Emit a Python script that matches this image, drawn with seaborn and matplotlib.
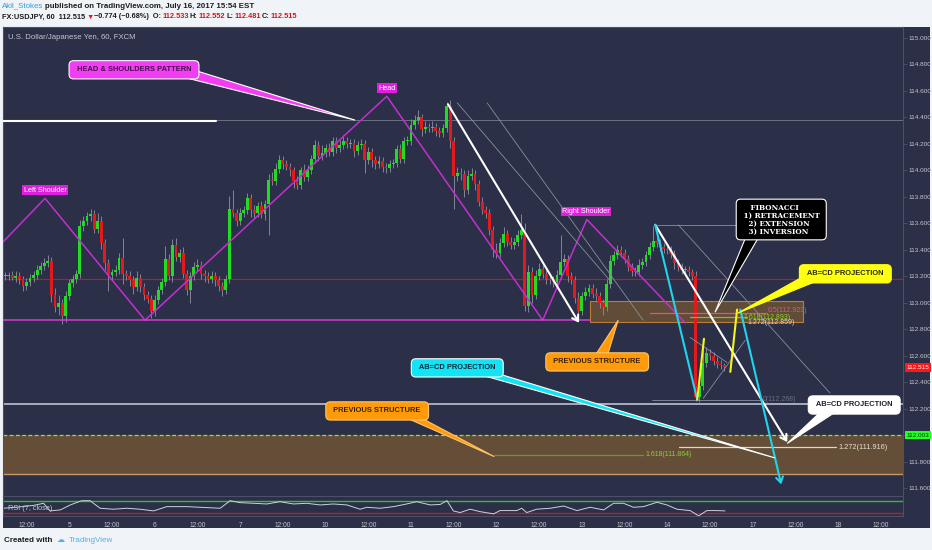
import numpy as np
import pandas as pd
import matplotlib
matplotlib.use("Agg")
import matplotlib.pyplot as plt
from matplotlib.patches import Rectangle, Polygon
import seaborn as sns

# ---------------- data: USDJPY 60 min bars, bar 0 = Jul 4 06:00 EST ----------------
first_open = 113.20
closes = [
    113.20, 113.21, 113.19, 113.20, 113.18, 113.13, 113.16, 113.19, 113.21, 113.25,
    113.28, 113.30, 113.32, 113.06, 112.97, 113.00, 112.90, 113.05, 113.15, 113.18,
    113.22, 113.58, 113.62, 113.66, 113.67, 113.56, 113.62, 113.45, 113.30, 113.21,
    113.23, 113.25, 113.34, 113.22, 113.20, 113.17, 113.12, 113.19, 113.12, 113.06,
    113.03, 112.94, 113.02, 113.10, 113.16, 113.33, 113.20, 113.44, 113.35, 113.38,
    113.22, 113.10, 113.20, 113.27, 113.29, 113.22, 113.20, 113.18, 113.20, 113.17,
    113.13, 113.10, 113.18, 113.71, 113.68, 113.62, 113.68, 113.70, 113.79, 113.70,
    113.68, 113.73, 113.67, 113.75, 113.93, 113.92, 114.01, 114.08, 114.05, 114.03,
    114.00, 113.92, 113.89, 114.00, 113.95, 114.00, 114.09, 114.19, 114.11, 114.13,
    114.17, 114.14, 114.22, 114.17, 114.19, 114.22, 114.20, 114.21, 114.15, 114.19,
    114.20, 114.08, 114.14, 114.08, 114.05, 114.07, 114.03, 114.02, 114.05, 114.06,
    114.16, 114.09, 114.22, 114.22, 114.34, 114.38, 114.40, 114.31, 114.33, 114.32,
    114.33, 114.30, 114.28, 114.32, 114.49, 114.22, 113.96, 113.98, 113.97, 113.85,
    113.96, 113.97, 113.90, 113.76, 113.70, 113.68, 113.55, 113.40, 113.38, 113.45,
    113.52, 113.46, 113.44, 113.46, 113.51, 113.55, 112.98, 113.23, 113.06, 113.20,
    113.26, 113.22, 113.18, 113.17, 113.16, 113.21, 113.31, 113.33, 113.20, 113.17,
    113.04, 112.94, 113.05, 113.08, 113.11, 113.07, 113.05, 113.00, 112.97, 113.14,
    113.32, 113.36, 113.40, 113.38, 113.33, 113.27, 113.24, 113.23, 113.29, 113.31,
    113.36, 113.42, 113.47, 113.45, 113.42, 113.41, 113.40, 113.37, 113.30, 113.27,
    113.25, 113.25, 113.23, 113.20, 112.29, 112.37, 112.55, 112.62, 112.60, 112.56,
    112.54, 112.53, 112.515,
]
# wick lengths in pips (0.01)
wick_up = [
    3, 2, 3, 4, 3, 2, 3, 3, 3, 4,
    3, 4, 4, 3, 5, 6, 3, 4, 3, 3,
    3, 5, 4, 3, 4, 3, 6, 4, 3, 3,
    3, 4, 4, 15, 3, 4, 3, 5, 3, 3,
    3, 3, 4, 3, 3, 10, 4, 4, 5, 3,
    4, 3, 3, 4, 4, 3, 3, 3, 4, 3,
    3, 3, 3, 10, 14, 3, 4, 3, 4, 3,
    4, 3, 4, 3, 4, 6, 5, 4, 3, 3,
    3, 3, 4, 3, 5, 4, 3, 4, 3, 6,
    3, 4, 3, 3, 4, 5, 3, 3, 3, 3,
    4, 3, 4, 3, 3, 4, 3, 3, 3, 3,
    3, 4, 3, 4, 5, 4, 6, 3, 4, 3,
    4, 3, 3, 3, 3, 4, 3, 5, 4, 3,
    4, 5, 3, 3, 4, 3, 3, 3, 5, 4,
    5, 3, 4, 3, 4, 12, 5, 6, 4, 5,
    4, 3, 3, 4, 3, 4, 20, 4, 3, 3,
    3, 4, 3, 4, 3, 3, 4, 3, 3, 4,
    4, 3, 4, 3, 3, 3, 3, 3, 4, 3,
    3, 4, 11, 3, 3, 3, 3, 3, 3, 3,
    3, 3, 3, 3, 4, 4, 15, 5, 3, 3,
    3, 3, 2,
]
wick_dn = [
    3, 3, 2, 3, 4, 4, 3, 3, 3, 3,
    3, 3, 3, 5, 4, 6, 6, 4, 3, 3,
    3, 3, 4, 3, 4, 3, 3, 4, 5, 12,
    4, 3, 3, 8, 3, 4, 5, 3, 4, 4,
    3, 5, 4, 3, 3, 3, 3, 4, 3, 4,
    3, 4, 10, 3, 3, 4, 4, 3, 3, 4,
    4, 5, 3, 3, 3, 4, 3, 3, 3, 5,
    4, 3, 3, 4, 24, 3, 3, 3, 4, 3,
    4, 5, 3, 3, 3, 3, 3, 3, 4, 3,
    3, 3, 3, 4, 3, 3, 3, 3, 5, 3,
    3, 10, 3, 5, 4, 3, 4, 4, 3, 3,
    3, 3, 3, 3, 3, 3, 3, 5, 3, 3,
    3, 4, 3, 3, 3, 5, 25, 4, 4, 5,
    3, 3, 5, 3, 3, 4, 4, 5, 4, 3,
    3, 3, 3, 3, 3, 3, 4, 5, 6, 3,
    3, 3, 4, 3, 4, 3, 3, 3, 4, 3,
    4, 4, 3, 3, 3, 3, 3, 4, 6, 3,
    3, 3, 3, 3, 3, 3, 4, 3, 3, 3,
    3, 3, 3, 3, 3, 3, 3, 3, 4, 3,
    3, 3, 3, 3, 3, 4, 3, 3, 3, 3,
    3, 3, 3,
]

# RSI(7) (bar, value)
rsi_bar = [-0.5, 4.0, 8.0, 10.8, 12.6, 15.5, 18.3, 21.5, 23.9, 24.8, 26.7, 30.4, 34.2,
           37.9, 41.7, 45.4, 51.0, 54.8, 60.4, 63.2, 66.0, 69.8, 73.5, 77.2, 81.0, 84.7,
           88.5, 92.2, 96.0, 99.7, 101.6, 105.3, 109.1, 112.8, 115.6, 119.4, 122.2, 124.1,
           125.9, 127.8, 130.6, 133.4, 137.2, 139.0, 143.7, 145.1, 146.5, 149.3, 153.1,
           156.9, 160.6, 164.3, 168.1, 170.9, 173.7, 176.5, 179.3, 183.1, 185.9, 188.7,
           192.4, 194.8, 197.1, 199.9, 202.2]
rsi_val = [45.8, 50.0, 55.0, 61.7, 37.3, 40.5, 56.4, 70.0, 70.0, 61.7, 45.8, 42.7, 45.8,
           42.7, 37.3, 51.0, 51.0, 48.9, 45.8, 70.0, 63.7, 61.7, 59.5, 66.8, 59.5, 61.7,
           56.4, 59.5, 56.4, 42.7, 48.9, 45.8, 51.0, 59.5, 66.8, 56.4, 58.0, 70.0,
           37.3, 32.0, 42.7, 35.0, 27.8, 38.3, 38.3, 45.8, 32.0, 42.7, 45.8,
           53.0, 38.3, 48.9, 40.5, 61.7, 61.7, 48.9, 51.0, 64.8, 56.4, 42.7,
           38.3, 21.4, 38.3, 38.3, 37.3]

time_ticks = [6, 18, 30, 42, 54, 66, 78, 90, 102, 114, 126, 138, 150, 162,
              174, 186, 198, 210, 222, 234, 246]
time_labels = ["12:00", "5", "12:00", "6", "12:00", "7", "12:00", "10", "12:00",
               "11", "12:00", "12", "12:00", "13", "12:00", "14", "12:00", "17",
               "12:00", "18", "12:00"]
price_ticks = [111.6, 111.8, 112.0, 112.2, 112.4, 112.6, 112.8, 113.0, 113.2,
               113.4, 113.6, 113.8, 114.0, 114.2, 114.4, 114.6, 114.8, 115.0]

# head & shoulders outline (bar, price)
hs_x = [-0.6, 11.2, 39.3, 107.2, 151.0, 163.4, 191.0]
hs_y = [113.46, 113.79, 112.87, 114.56, 112.87, 113.63, 112.85]
neckline = 112.87
red_level = 113.18
top_level = 114.38
white_level = 112.235
green_level = 112.003
last_price = 112.515
zone_low = (111.71, 112.003)
zone_high = (112.855, 113.015)

# drawn trend lines: x0, y0, x1, y1
white_lines = [(124.4, 114.50, 161.2, 112.85), (182.6, 113.59, 219.7, 111.95)]
cyan_lines = [(182.6, 113.59, 194.4, 112.27)]
cyan_arrows = [(206.5, 112.95, 218.0, 111.63)]
yellow_lines = [(194.4, 112.27, 196.3, 112.73), (203.7, 112.48, 205.6, 112.95)]
gray_lines = [(127.0, 114.51, 170.5, 113.15), (135.4, 114.51, 179.2, 112.87),
              (183.1, 113.59, 206.5, 113.59), (189.1, 113.59, 231.7, 112.32),
              (196.1, 112.28, 207.9, 112.72), (192.4, 112.74, 202.8, 112.55),
              (181.7, 112.268, 212.6, 112.268)]

# ---------------- style ----------------
sns.set_style("dark")
plt.rcParams["font.family"] = ["Liberation Sans", "DejaVu Sans"]

BG = "#2b2f47"
GREEN = "#21dd21"
RED = "#e3191b"
TXT = "#c3c6cf"
EDGE = "#4b4f68"

W, H = 932, 550
fig = plt.figure(figsize=(W / 100, H / 100), dpi=100)
fig.patch.set_facecolor("#f0f3f7")


def fx(x):
    return x / W


def fy(y):
    return 1 - y / H


fig.patches.append(Rectangle((fx(3), fy(528)), fx(927), 501 / H, transform=fig.transFigure,
                             facecolor=BG, edgecolor="none", zorder=-5))

ax = fig.add_axes([fx(3), fy(496), fx(900), 469 / H])
ax_rsi = fig.add_axes([fx(3), fy(516), fx(900), 20 / H], sharex=ax)
for a in (ax, ax_rsi):
    a.set_facecolor(BG)
    for s in a.spines.values():
        s.set_color(EDGE)
        s.set_linewidth(0.8)
    a.grid(False)

# ---------------- candles ----------------
df = pd.DataFrame({"close": closes, "up": wick_up, "dn": wick_dn})
df["bar"] = np.arange(len(df))
df["open"] = df["close"].shift(1).fillna(first_open)
df["high"] = df[["open", "close"]].max(axis=1) + df["up"] / 100
df["low"] = df[["open", "close"]].min(axis=1) - df["dn"] / 100
rising = df["close"] >= df["open"]

ax.vlines(df["bar"], df["low"], df["high"], color="#8e92a3", lw=0.6, zorder=3)
ax.bar(df["bar"], (df["close"] - df["open"]).abs().clip(lower=0.01),
       bottom=df[["open", "close"]].min(axis=1), width=0.8,
       color=np.where(rising, GREEN, RED), linewidth=0, zorder=4)

# ---------------- zones & levels ----------------
ax.axhspan(*zone_low, color="#6b5236", alpha=0.9, zorder=1, lw=0)
ax.axhline(zone_low[0], color="#c99a62", lw=1.0, zorder=2)
ax.axhline(green_level, color="#9be51e", lw=0.9, ls=(0, (3, 2)), zorder=2)
ax.add_patch(Rectangle((164.3, zone_high[0]), 224.2 - 164.3, zone_high[1] - zone_high[0],
                       facecolor="#6b5236", alpha=0.85, edgecolor="#cf8a35", lw=0.8, zorder=1))
ax.axhline(red_level, color="#a8232b", lw=0.9, zorder=2)
ax.axhline(top_level, color="#6d7185", lw=0.7, zorder=2)
ax.plot([-0.6, 59.3], [114.37, 114.37], color="white", lw=1.5, zorder=3)
ax.axhline(white_level, color="#c8cde0", lw=1.1, zorder=2)

# head & shoulders
sns.lineplot(x=hs_x, y=hs_y, sort=False, ax=ax, color="#c42fd0", lw=1.1, zorder=5)
ax.plot([-0.6, 164.3], [neckline, neckline], color="#d63ad6", lw=1.1, zorder=5)

for x0, y0, x1, y1 in gray_lines:
    ax.plot([x0, x1], [y0, y1], color="#8a8ea0", lw=0.6, zorder=5)

# fib levels
ax.plot([181.2, 214.0], [112.925, 112.925], color="#e0508f", lw=0.9, zorder=5)
ax.text(214.3, 112.94, "0.5(112.923)", color="#e0508f", fontsize=5, va="center", zorder=6)
ax.plot([192.4, 208.4], [112.897, 112.897], color="#7cc41f", lw=0.9, zorder=5)
ax.text(207.3, 112.892, "1.618(112.893)", color="#8fd12a", fontsize=5, va="center", zorder=6)
ax.text(208.5, 112.850, "1.272(112.859)", color="#d8d8d8", fontsize=5, va="center", zorder=6)
ax.plot([137.4, 179.2], [111.855, 111.855], color="#6c9a2a", lw=0.9, zorder=5)
ax.text(180.0, 111.855, "1.618(111.864)", color="#8fcf3a", fontsize=5, va="center", zorder=6)
ax.plot([189.3, 233.4], [111.91, 111.91], color="#e6d5c0", lw=0.9, zorder=5)
ax.text(234.0, 111.91, "1.272(111.916)", color="#e6e0d8", fontsize=5.3, va="center", zorder=6)
ax.text(212.9, 112.268, "0(112.268)", color="#6d7185", fontsize=5, va="center", zorder=6)

for x0, y0, x1, y1 in white_lines:
    ax.annotate("", xy=(x1, y1), xytext=(x0, y0), zorder=7,
                arrowprops=dict(arrowstyle="->,head_length=0.4,head_width=0.25", color="white",
                                lw=1.5, shrinkA=0, shrinkB=0))
for x0, y0, x1, y1 in cyan_lines:
    ax.plot([x0, x1], [y0, y1], color="#22d3ee", lw=1.5, zorder=7)
for x0, y0, x1, y1 in cyan_arrows:
    ax.annotate("", xy=(x1, y1), xytext=(x0, y0), zorder=7,
                arrowprops=dict(arrowstyle="->,head_length=0.4,head_width=0.25", color="#22d3ee",
                                lw=1.5, shrinkA=0, shrinkB=0))
for x0, y0, x1, y1 in yellow_lines:
    ax.plot([x0, x1], [y0, y1], color="#f5f51a", lw=1.5, zorder=7)


# ---------------- callouts ----------------
def callout(cx, cy, text, fc, tc, ec, base, tip, fs=5.4, family=None, ha="center", pad=0.75):
    ax.add_patch(Polygon([base[0], base[1], tip], closed=True, facecolor=fc, edgecolor=ec,
                         lw=0.8, zorder=8))
    kw = {}
    if family:
        kw["family"] = family
    ax.text(cx, cy, text, ha=ha, va="center", fontsize=fs, color=tc, fontweight="bold",
            zorder=9, linespacing=1.0,
            bbox=dict(boxstyle=f"round,pad={pad},rounding_size=0.6", fc=fc, ec=ec, lw=0.8), **kw)


callout(36.2, 114.76, " HEAD & SHOULDERS PATTERN ", "#f23ef2", "#45104a", "#ffffff",
        [(49.2, 114.79), (49.2, 114.71)], (98.3, 114.38))
callout(166.3, 112.555, " PREVIOUS STRUCTURE ", "#ff9a0a", "#3a2200", "#ffc46a",
        [(164.9, 112.57), (168.8, 112.57)], (172.2, 112.87))
callout(104.5, 112.185, " PREVIOUS STRUCTURE ", "#ff9a0a", "#3a2200", "#ffc46a",
        [(110.4, 112.16), (114.9, 112.16)], (137.4, 111.84))
callout(127.0, 112.51, " AB=CD PROJECTION ", "#12e3f5", "#0b2a3a", "#ffffff",
        [(130.6, 112.48), (136.8, 112.48)], (216.3, 111.83))
callout(236.0, 113.22, " AB=CD PROJECTION ", "#ffff10", "#2a2a00", "#ffff10",
        [(227.5, 113.25), (227.5, 113.16)], (205.9, 112.925))
callout(238.5, 112.23, " AB=CD PROJECTION ", "#ffffff", "#1e2030", "#ffffff",
        [(229.5, 112.19), (234.0, 112.19)], (219.7, 111.94))
callout(218.0, 113.63, " FIBONACCI      \n 1) RETRACEMENT \n 2) EXTENSION   \n 3) INVERSION   ",
        "#000000", "#ffffff", "#ffffff", [(208.7, 113.54), (212.6, 113.54)], (199.4, 112.93),
        fs=5.2, family=["DejaVu Serif"], pad=0.6)

for cx, cy, lab in [(11.2, 113.85, "Left Shoulder"), (107.3, 114.62, "Head"),
                    (163.2, 113.69, "Right Shoulder")]:
    ax.text(cx, cy, lab, ha="center", va="center", fontsize=5.2, color="white", zorder=9,
            bbox=dict(boxstyle="square,pad=0.2", fc="#e01ee0", ec="none"))

# ---------------- axes ----------------
ax.set_xlim(-0.6, 252.2)
ax.set_ylim(111.543, 115.083)
ax.yaxis.tick_right()
ax.set_yticks(price_ticks)
# the 112.000 label sits under the green price tag, as on the reference
ax.set_yticklabels(["" if abs(v - green_level) < 0.05 else f"{v:.3f}" for v in price_ticks])
ax.tick_params(axis="y", colors=EDGE, labelcolor=TXT, labelsize=4.6, length=3, width=0.6, pad=1,
               right=True, left=False)
ax.tick_params(axis="x", bottom=False, labelbottom=False)
ax.set_xlabel("")
ax.set_ylabel("")

for val, fc, tc in [(last_price, "#ff1717", "white"), (green_level, "#22ff22", "#103010")]:
    ax.text(1.004, val, f"{val:.3f}", transform=ax.get_yaxis_transform(), fontsize=4.6,
            color=tc, va="center", ha="left", zorder=10,
            bbox=dict(boxstyle="square,pad=0.3", fc=fc, ec="none"), clip_on=False)

ax.text(0.006, 0.985, "U.S. Dollar/Japanese Yen, 60, FXCM", transform=ax.transAxes,
        fontsize=5.6, color=TXT, va="top")

# RSI pane
ax_rsi.axhline(70, color="#2fbf3a", lw=1.0)
ax_rsi.axhline(30, color="#b8202a", lw=1.0)
sns.lineplot(x=rsi_bar, y=rsi_val, ax=ax_rsi, color="#cfd1da", lw=0.7)
ax_rsi.set_ylim(21, 85)
ax_rsi.set_yticks([])
ax_rsi.set_xlabel("")
ax_rsi.set_ylabel("")
ax_rsi.set_xticks(time_ticks)
ax_rsi.set_xticklabels(time_labels)
ax_rsi.tick_params(axis="x", colors=EDGE, labelcolor=TXT, labelsize=4.8, length=2, pad=2.5)
ax_rsi.text(0.006, 0.35, "RSI (7, close)", transform=ax_rsi.transAxes, fontsize=5.3,
            color=TXT, va="center")

# ---------------- header / footer ----------------
renderer = fig.canvas.get_renderer()


def text_run(x, y, parts, fs, gap=1):
    for s, c, w in parts:
        t = fig.text(fx(x), fy(y), s, color=c, fontsize=fs, va="center", fontweight=w,
                     family=["Liberation Sans", "DejaVu Sans"])
        x = t.get_window_extent(renderer).x1 + gap


text_run(2, 6, [("Akil_Stokes", "#3d9ad8", "normal"),
                ("published on TradingView.com, July 16, 2017 15:54 EST", "#1c1c1c", "bold")],
         5.7, gap=2)
text_run(2, 17, [("FX:USDJPY, 60  112.515", "#1c1c1c", "bold"), ("\u25bc", "#e0161a", "bold"),
                 ("\u22120.774 (\u22120.68%)  O:", "#1c1c1c", "bold"),
                 ("112.533", "#d3151a", "bold"), ("H:", "#1c1c1c", "bold"),
                 ("112.552", "#d3151a", "bold"), ("L:", "#1c1c1c", "bold"),
                 ("112.481", "#d3151a", "bold"), ("C:", "#1c1c1c", "bold"),
                 ("112.515", "#d3151a", "bold")], 5.3)
text_run(4, 540, [("Created with", "#1c1c1c", "bold"), ("\u2601", "#55aee6", "normal"),
                  ("TradingView", "#55aee6", "normal")], 5.8, gap=4)

fig.savefig("out.png", dpi=100, facecolor=fig.get_facecolor())
